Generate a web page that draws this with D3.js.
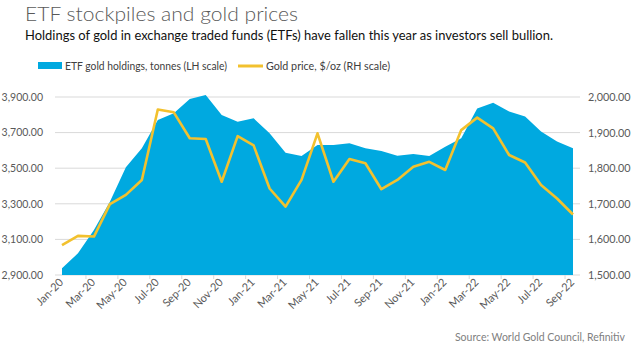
<!DOCTYPE html>
<html>
<head>
<meta charset="utf-8">
<script src="https://cdn.jsdelivr.net/npm/d3@7"></script>
<style>
  body { margin: 0; background: #fff; }
  text { font-family: Lato, "Noto Sans", sans-serif; }
</style>
</head>
<body>
<div id="chart"></div>
<script>
let w = 640
let h = 350

// monthly, Jan-20 .. Sep-22
let months = ["Jan-20","Feb-20","Mar-20","Apr-20","May-20","Jun-20","Jul-20","Aug-20","Sep-20","Oct-20","Nov-20","Dec-20",
  "Jan-21","Feb-21","Mar-21","Apr-21","May-21","Jun-21","Jul-21","Aug-21","Sep-21","Oct-21","Nov-21","Dec-21",
  "Jan-22","Feb-22","Mar-22","Apr-22","May-22","Jun-22","Jul-22","Aug-22","Sep-22"]
let etfHoldings = [2938,3022,3153,3312,3505,3612,3771,3809,3889,3911,3799,3761,
  3780,3696,3587,3569,3631,3631,3640,3612,3597,3570,3580,3569,
  3621,3668,3836,3868,3818,3790,3706,3650,3612]
let goldPrice = [1584,1610,1608,1699,1725,1767,1965,1957,1884,1882,1762,1890,
  1864,1743,1692,1767,1898,1762,1826,1814,1741,1767,1804,1818,
  1795,1907,1942,1912,1837,1816,1753,1715,1670]
let leftTicks = [2900,3100,3300,3500,3700,3900]
let rightTicks = [1500,1600,1700,1800,1900,2000]

let svg = d3.select("#chart").append("svg")
  .attr("width", w)
  .attr("height", h)

let x = d3.scaleLinear().domain([0, months.length - 1]).range([62, 573])
let yL = d3.scaleLinear().domain([2900, 3900]).range([275, 97])
let yR = d3.scaleLinear().domain([1500, 2000]).range([275, 97])

// title + subtitle
svg.append("text").attr("x", 25).attr("y", 21)
  .style("font-size", "20.5px").style("font-weight", 300).attr("fill", "#595959")
  .attr("textLength", 273).attr("lengthAdjust", "spacingAndGlyphs")
  .text("ETF stockpiles and gold prices")
svg.append("text").attr("x", 25).attr("y", 40)
  .style("font-size", "13px").attr("fill", "#111")
  .attr("textLength", 528).attr("lengthAdjust", "spacingAndGlyphs")
  .text("Holdings of gold in exchange traded funds (ETFs) have fallen this year as investors sell bullion.")

// legend
let lg = svg.append("g").style("font-size", "10.5px").attr("fill", "#404040")
lg.append("rect").attr("x", 38).attr("y", 62).attr("width", 24).attr("height", 7).attr("fill", "#00a9e0")
lg.append("text").attr("x", 65).attr("y", 69.5)
  .attr("textLength", 162).attr("lengthAdjust", "spacingAndGlyphs")
  .text("ETF gold holdings, tonnes (LH scale)")
lg.append("line").attr("x1", 238).attr("x2", 263).attr("y1", 66).attr("y2", 66)
  .attr("stroke", "#f2c12e").attr("stroke-width", 3)
lg.append("text").attr("x", 266).attr("y", 69.5)
  .attr("textLength", 124).attr("lengthAdjust", "spacingAndGlyphs")
  .text("Gold price, $/oz (RH scale)")

// gridlines
svg.append("g").selectAll("line").data(leftTicks).join("line")
  .attr("x1", 55).attr("x2", 580)
  .attr("y1", d => yL(d)).attr("y2", d => yL(d))
  .attr("stroke", "#d9d9d9").attr("stroke-width", 1)

// left axis
let leftAxis = svg.append("g").attr("transform", "translate(47,0)")
  .call(d3.axisLeft(yL).tickValues(leftTicks).tickSize(0).tickPadding(4).tickFormat(d3.format(",.2f")))
leftAxis.select(".domain").remove()
leftAxis.selectAll("text").style("font-size", "10.5px").attr("fill", "#595959")
  .style("font-family", "Lato, sans-serif")

// right axis
let rightAxis = svg.append("g").attr("transform", "translate(584,0)")
  .call(d3.axisRight(yR).tickValues(rightTicks).tickSize(0).tickPadding(4).tickFormat(d3.format(",.2f")))
rightAxis.select(".domain").remove()
rightAxis.selectAll("text").style("font-size", "10.8px").attr("fill", "#595959")
  .style("font-family", "Lato, sans-serif")

// ETF area
let area = d3.area()
  .x((d, i) => x(i))
  .y0(yL(2900))
  .y1(d => yL(d))
svg.append("path").datum(etfHoldings)
  .attr("d", area)
  .attr("fill", "#00a9e0")

// gold price line
let line = d3.line()
  .x((d, i) => x(i))
  .y(d => yR(d))
svg.append("path").datum(goldPrice)
  .attr("d", line)
  .attr("fill", "none")
  .attr("stroke", "#f2c12e")
  .attr("stroke-width", 2.6)
  .attr("stroke-linejoin", "round")

// x axis ticks (between categories) + rotated labels every 2 months
let labelIdx = d3.range(0, months.length, 2)
svg.append("g").selectAll("line").data(labelIdx.slice(0, -1)).join("line")
  .attr("x1", d => x(d + 1.5)).attr("x2", d => x(d + 1.5))
  .attr("y1", 275).attr("y2", 279)
  .attr("stroke", "#d9d9d9")
svg.append("g").selectAll("text").data(labelIdx).join("text")
  .attr("transform", d => `translate(${x(d) + 2},${283}) rotate(-45)`)
  .attr("text-anchor", "end")
  .style("font-size", "11px")
  .attr("fill", "#595959")
  .text(d => months[d])

// source
svg.append("text").attr("x", 625).attr("y", 341).attr("text-anchor", "end")
  .style("font-size", "10.5px").attr("fill", "#808080")
  .text("Source: World Gold Council, Refinitiv")
</script>
</body>
</html>
